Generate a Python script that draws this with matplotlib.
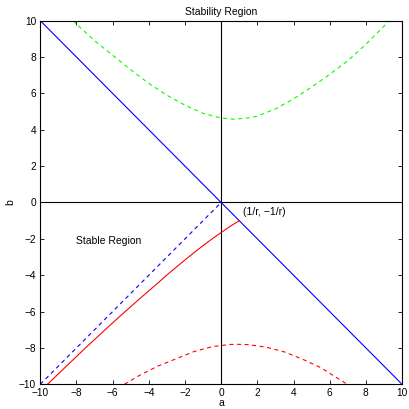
import matplotlib
matplotlib.use("Agg")
import matplotlib.pyplot as plt

plt.rcParams['font.family'] = ['Liberation Sans', 'DejaVu Sans']

# values
blue_a = [-10, 10]
blue_b = [10, -10]

blue_dash_a = [-10, 0]
blue_dash_b = [-10, 0]

red_a = [-9.6, -8.5, -7.5, -6.44, -5.5, -4.5, -3.5, -3.04, -2.5, -2, -1.5,
         -1, -0.5, 0, 0.5, 1]
red_b = [-10.0, -8.95, -8.0, -7.02, -6.17, -5.29, -4.43, -4.02, -3.57, -3.16,
         -2.76, -2.37, -2.0, -1.65, -1.31, -1.0]

green_a = [-8.2, -7, -6, -5, -4, -3, -2, -1, 0, 0.7, 1.5, 2, 3, 4, 5, 6, 7,
           8, 9.3]
green_b = [10, 8.9, 8.1, 7.3, 6.55, 5.9, 5.35, 4.9, 4.65, 4.58, 4.65, 4.75,
           5.15, 5.7, 6.35, 7.05, 7.8, 8.7, 10]

red_dash_a = [-5.35, -4.5, -3.5, -2.5, -1.5, -0.5, 0.5, 0.9, 1.5, 2.5, 3.5,
              4.5, 5.5, 6.97]
red_dash_b = [-10, -9.5, -9.0, -8.6, -8.2, -7.93, -7.81, -7.8, -7.82, -7.96,
              -8.22, -8.62, -9.08, -10]

ticks = [-10, -8, -6, -4, -2, 0, 2, 4, 6, 8, 10]
tick_labels = ['\u221210', '\u22128', '\u22126', '\u22124', '\u22122', '0',
               '2', '4', '6', '8', '10']

fig = plt.figure(figsize=(4.09, 4.09), dpi=100)
ax = fig.add_axes([0.0985, 0.0604, 0.8845, 0.889])

ax.axhline(0, color='black', lw=0.8)
ax.axvline(0, color='black', lw=0.8)

ax.plot(blue_a, blue_b, color='blue', lw=0.8)
ax.plot(blue_dash_a, blue_dash_b, color='blue', lw=0.8, dashes=(3.6, 3.2))
ax.plot(red_a, red_b, color='red', lw=0.8)
ax.plot(green_a, green_b, color='#00ff00', lw=0.8, dashes=(3.6, 3.2))
ax.plot(red_dash_a, red_dash_b, color='red', lw=0.8, dashes=(3.6, 3.2))

ax.text(1.2, -0.55, '(1/r, \u22121/r)', fontsize=7.5, va='center', ha='left')
ax.text(-8.0, -2.1, 'Stable Region', fontsize=7.5, va='center', ha='left')

ax.set_xlim(-10, 10)
ax.set_ylim(-10, 10)
ax.set_xticks(ticks)
ax.set_xticklabels(tick_labels)
ax.set_yticks(ticks)
ax.set_yticklabels(tick_labels)
ax.tick_params(direction='in', top=True, right=True, length=3, width=0.6,
               labelsize=7.3)
ax.tick_params(axis='x', pad=2.5)
ax.tick_params(axis='y', pad=3)
for s in ax.spines.values():
    s.set_linewidth(0.8)

ax.set_title('Stability Region', fontsize=7.5, pad=4)
ax.set_xlabel('a', fontsize=7.5, labelpad=0.5)
ax.set_ylabel('b', fontsize=7.5, labelpad=3)

fig.savefig('out.png', dpi=100)
